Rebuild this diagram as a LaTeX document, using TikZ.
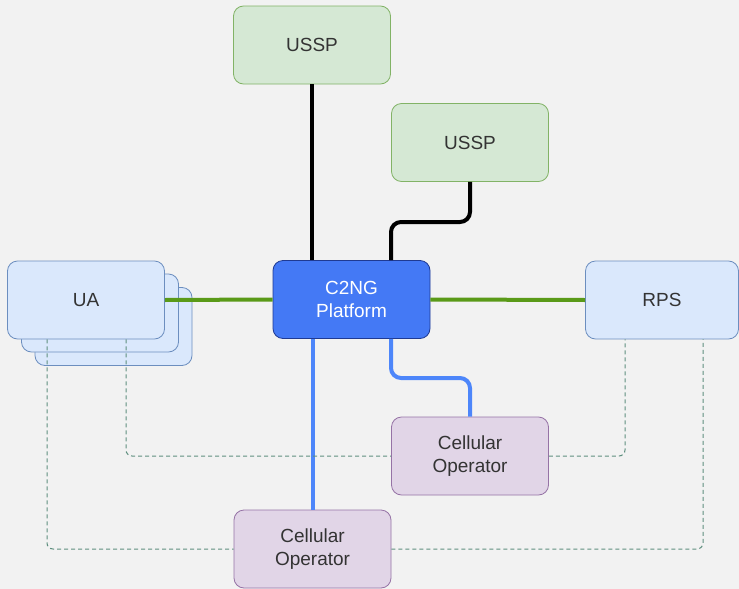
\documentclass[tikz,border=0pt]{standalone}
\usepackage{fontspec}
\setmainfont{Liberation Sans}
\definecolor{bgc}{HTML}{F2F2F2}
\definecolor{gfill}{HTML}{D5E8D4}
\definecolor{gline}{HTML}{82B366}
\definecolor{bfill}{HTML}{DAE8FC}
\definecolor{bline}{HTML}{6C8EBF}
\definecolor{pfill}{HTML}{E1D5E7}
\definecolor{pline}{HTML}{9673A6}
\definecolor{cfill}{HTML}{4479F5}
\definecolor{cline}{HTML}{1F3A93}
\definecolor{txt}{HTML}{333333}
\definecolor{greenc}{HTML}{5A9A18}
\definecolor{bluec}{HTML}{4D86FA}
\definecolor{dashc}{HTML}{5F8F7F}
\tikzset{
  box/.style={draw, rounded corners=10pt, minimum width=#1, minimum height=78pt, inner sep=0pt, align=center, font=\fontsize{19}{23}\selectfont, text=txt, line width=0.8pt},
  gbox/.style={box=157pt, fill=gfill, draw=gline},
  bbox/.style={box=157pt, fill=bfill, draw=bline},
  pbox/.style={box=157pt, fill=pfill, draw=pline},
  cbox/.style={box=157pt, fill=cfill, draw=cline, text=white},
  blk/.style={line width=4pt, black, rounded corners=10pt},
  grn/.style={line width=4pt, greenc},
  blu/.style={line width=4pt, bluec, rounded corners=10pt},
  dsh/.style={line width=1pt, dashc, dash pattern=on 4pt off 3pt, rounded corners=6pt},
}
\begin{document}
\begin{tikzpicture}[x=1pt,y=-1pt]
\fill[bgc] (0,0) rectangle (739,589);
\useasboundingbox (0,0) rectangle (739,589);
% nodes
\node[gbox] (ussp1) at (312,45) {USSP};
\node[gbox] (ussp2) at (470,142.5) {USSP};
\node[cbox] (c2ng) at (351.5,299.5) {C2NG\\Platform};
\node[bbox, minimum width=153pt] (rps) at (662,300) {RPS};
\node[bbox] (ua3) at (113.5,326.5) {};
\node[bbox] (ua2) at (100,313) {};
\node[bbox] (ua) at (86,300) {UA};
\node[pbox] (cell1) at (470,456) {Cellular\\Operator};
\node[pbox] (cell2) at (312.5,549) {Cellular\\Operator};
% helper coordinates
\coordinate (k1) at (391,222);
\coordinate (k2) at (391,378);
\coordinate (d1) at (126,456);
\coordinate (d2) at (625,456);
\coordinate (d3) at (47,549);
\coordinate (d4) at (703,549);
% connectors
\draw[blk] (ussp1.south) -- (ussp1.south |- c2ng.north);
\draw[blk] (ussp2.south) |- (k1) -- (k1 |- c2ng.north);
\draw[grn] (ua.east) -- (c2ng.west);
\draw[grn] (c2ng.east) -- (rps.west);
\draw[blu] (cell2.north |- c2ng.south) -- (cell2.north);
\draw[blu] (k2 |- c2ng.south) -- (k2) -- (k2 -| cell1.north) -- (cell1.north);
\draw[dsh] (d1 |- ua.south) -- (d1) -- (cell1.west);
\draw[dsh] (cell1.east) -- (d2) -- (d2 |- rps.south);
\draw[dsh] (d3 |- ua.south) -- (d3) -- (cell2.west);
\draw[dsh] (cell2.east) -- (d4) -- (d4 |- rps.south);
\end{tikzpicture}
\end{document}
